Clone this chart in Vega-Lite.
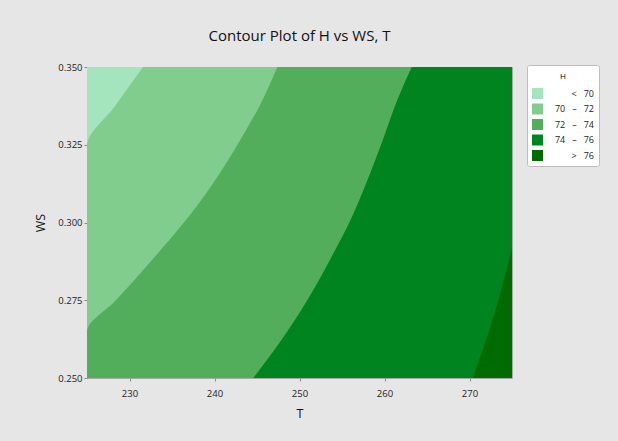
{
  "$schema": "https://vega.github.io/schema/vega-lite/v6.json",
  "width": 425,
  "height": 311,
  "autosize": {"type": "none"},
  "padding": {"left": 87, "top": 67, "right": 106, "bottom": 63},
  "background": "#e6e6e6",
  "title": {
    "text": "Contour Plot of H vs WS, T",
    "font": "Open Sans",
    "fontSize": 15,
    "fontWeight": "normal",
    "color": "#111111",
    "offset": 18,
    "anchor": "middle"
  },
  "config": {
    "view": {"stroke": "#a8a8a8", "strokeWidth": 1},
    "axis": {
      "labelFont": "Open Sans",
      "labelFontSize": 9.5,
      "labelColor": "#222222",
      "tickColor": "#8a8a8a",
      "tickSize": 3,
      "domain": false,
      "grid": false,
      "titleFont": "Open Sans",
      "titleFontSize": 12.5,
      "titleColor": "#111111",
      "titleFontWeight": "normal",
      "labelFlush": false
    },
    "legend": {
      "labelFont": "Open Sans",
      "titleFont": "Open Sans"
    }
  },
  "data": {
    "values": [
      {"band": 1, "level": "<\u00a0\u00a0\u00a070", "WS": 0.25, "T": 225},
      {"band": 1, "level": "<\u00a0\u00a0\u00a070", "WS": 0.35, "T": 225},
      {"band": 2, "level": "70\u00a0\u00a0\u00a0–\u00a0\u00a0\u00a072", "WS": 0.25, "T": 225},
      {"band": 2, "level": "70\u00a0\u00a0\u00a0–\u00a0\u00a0\u00a072", "WS": 0.3246, "T": 225},
      {"band": 2, "level": "70\u00a0\u00a0\u00a0–\u00a0\u00a0\u00a072", "WS": 0.3375, "T": 228.3},
      {"band": 2, "level": "70\u00a0\u00a0\u00a0–\u00a0\u00a0\u00a072", "WS": 0.35, "T": 231.6},
      {"band": 3, "level": "72\u00a0\u00a0\u00a0–\u00a0\u00a0\u00a074", "WS": 0.25, "T": 225},
      {"band": 3, "level": "72\u00a0\u00a0\u00a0–\u00a0\u00a0\u00a074", "WS": 0.2649, "T": 225},
      {"band": 3, "level": "72\u00a0\u00a0\u00a0–\u00a0\u00a0\u00a074", "WS": 0.275, "T": 228.4},
      {"band": 3, "level": "72\u00a0\u00a0\u00a0–\u00a0\u00a0\u00a074", "WS": 0.2875, "T": 232.5},
      {"band": 3, "level": "72\u00a0\u00a0\u00a0–\u00a0\u00a0\u00a074", "WS": 0.3, "T": 236.4},
      {"band": 3, "level": "72\u00a0\u00a0\u00a0–\u00a0\u00a0\u00a074", "WS": 0.3125, "T": 239.8},
      {"band": 3, "level": "72\u00a0\u00a0\u00a0–\u00a0\u00a0\u00a074", "WS": 0.325, "T": 242.7},
      {"band": 3, "level": "72\u00a0\u00a0\u00a0–\u00a0\u00a0\u00a074", "WS": 0.3375, "T": 245.3},
      {"band": 3, "level": "72\u00a0\u00a0\u00a0–\u00a0\u00a0\u00a074", "WS": 0.35, "T": 247.4},
      {"band": 4, "level": "74\u00a0\u00a0\u00a0–\u00a0\u00a0\u00a076", "WS": 0.25, "T": 244.56},
      {"band": 4, "level": "74\u00a0\u00a0\u00a0–\u00a0\u00a0\u00a076", "WS": 0.2622, "T": 247.87},
      {"band": 4, "level": "74\u00a0\u00a0\u00a0–\u00a0\u00a0\u00a076", "WS": 0.2751, "T": 250.93},
      {"band": 4, "level": "74\u00a0\u00a0\u00a0–\u00a0\u00a0\u00a076", "WS": 0.2879, "T": 253.56},
      {"band": 4, "level": "74\u00a0\u00a0\u00a0–\u00a0\u00a0\u00a076", "WS": 0.3008, "T": 256.0},
      {"band": 4, "level": "74\u00a0\u00a0\u00a0–\u00a0\u00a0\u00a076", "WS": 0.3137, "T": 258.0},
      {"band": 4, "level": "74\u00a0\u00a0\u00a0–\u00a0\u00a0\u00a076", "WS": 0.3265, "T": 259.8},
      {"band": 4, "level": "74\u00a0\u00a0\u00a0–\u00a0\u00a0\u00a076", "WS": 0.3394, "T": 261.5},
      {"band": 4, "level": "74\u00a0\u00a0\u00a0–\u00a0\u00a0\u00a076", "WS": 0.35, "T": 263.2},
      {"band": 5, "level": ">\u00a0\u00a0\u00a076", "WS": 0.25, "T": 270.4},
      {"band": 5, "level": ">\u00a0\u00a0\u00a076", "WS": 0.2703, "T": 272.9},
      {"band": 5, "level": ">\u00a0\u00a0\u00a076", "WS": 0.281, "T": 274.0},
      {"band": 5, "level": ">\u00a0\u00a0\u00a076", "WS": 0.2917, "T": 275}
    ]
  },
  "encoding": {
    "y": {
      "field": "WS",
      "type": "quantitative",
      "scale": {"domain": [0.25, 0.35], "nice": false, "zero": false},
      "axis": {
        "title": "WS",
        "values": [0.25, 0.275, 0.3, 0.325, 0.35],
        "format": ".3f",
        "labelPadding": 2,
        "titlePadding": 10
      }
    },
    "x": {
      "field": "T",
      "type": "quantitative",
      "scale": {"domain": [225, 275], "nice": false, "zero": false},
      "axis": {
        "title": "T",
        "values": [230, 240, 250, 260, 270],
        "labelPadding": 7,
        "titlePadding": 10
      }
    },
    "x2": {"datum": 275},
    "fill": {
      "field": "level",
      "type": "nominal",
      "scale": {
        "domain": ["<\u00a0\u00a0\u00a070", "70\u00a0\u00a0\u00a0–\u00a0\u00a0\u00a072", "72\u00a0\u00a0\u00a0–\u00a0\u00a0\u00a074", "74\u00a0\u00a0\u00a0–\u00a0\u00a0\u00a076", ">\u00a0\u00a0\u00a076"],
        "range": ["#a5e5bd", "#80cd8e", "#53ae5b", "#00841f", "#006b00"]
      },
      "legend": {
        "title": "H",
        "orient": "none",
        "legendX": 440,
        "legendY": -2,
        "titleAnchor": "middle",
        "titleFontSize": 8,
        "titleFontWeight": "normal",
        "titleColor": "#000000",
        "titleBaseline": "line-top",
        "titleLineHeight": 14,
        "titlePadding": 10,
        "labelFontSize": 9,
        "labelColor": "#222222",
        "labelAlign": "right",
        "labelOffset": 51,
        "symbolType": "square",
        "symbolSize": 121,
        "symbolStrokeWidth": 0,
        "symbolOpacity": 1,
        "rowPadding": 4.5,
        "padding": 5,
        "fillColor": "#ffffff",
        "strokeColor": "#bdbdbd",
        "cornerRadius": 2
      }
    }
  },
  "layer": [
    {"transform": [{"filter": "datum.band === 1"}], "mark": {"type": "area", "orient": "horizontal"}},
    {"transform": [{"filter": "datum.band === 2"}], "mark": {"type": "area", "orient": "horizontal", "interpolate": "monotone"}},
    {"transform": [{"filter": "datum.band === 3"}], "mark": {"type": "area", "orient": "horizontal", "interpolate": "monotone"}},
    {"transform": [{"filter": "datum.band === 4"}], "mark": {"type": "area", "orient": "horizontal", "interpolate": "monotone"}},
    {"transform": [{"filter": "datum.band === 5"}], "mark": {"type": "area", "orient": "horizontal", "interpolate": "monotone"}}
  ]
}
